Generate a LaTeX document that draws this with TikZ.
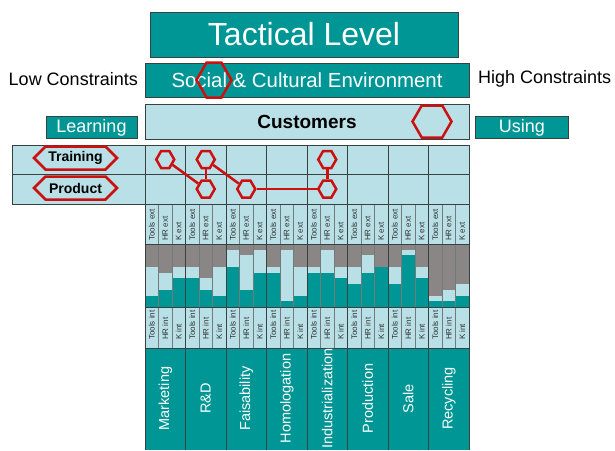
\documentclass[tikz,border=0pt]{standalone}
\usepackage{fontspec}
\setmainfont{Liberation Sans}
\usepackage{xcolor}
\usepackage{tikz}
\usetikzlibrary{shapes.symbols,positioning}

\definecolor{tealbox}{RGB}{0,150,150}
\definecolor{paleblue}{RGB}{185,224,230}
\definecolor{bargray}{RGB}{138,134,134}
\definecolor{hexred}{RGB}{204,16,16}
\definecolor{rulegray}{RGB}{55,65,65}

\tikzset{
  headbox/.style={draw=rulegray, fill=tealbox, text=white, inner sep=0pt},
  custbox/.style={draw=rulegray, fill=paleblue, text=black, inner sep=0pt},
  hexmark/.style={signal, signal to=east and west, signal pointer angle=120,
    draw=hexred, line width=2.5pt, inner sep=0pt, minimum width=18pt, minimum height=17pt},
  hexlabel/.style={signal, signal to=east and west, signal pointer angle=90,
    draw=hexred, line width=2.5pt, fill=paleblue, inner sep=0pt,
    minimum width=83pt, minimum height=23pt, font=\fontsize{14}{15}\selectfont\bfseries},
  sublabel/.style={anchor=west, rotate=90, inner sep=0pt, text=black!80,
    font=\fontsize{8}{9}\selectfont},
  phaselabel/.style={rotate=90, inner sep=0pt, text=white,
    font=\fontsize{14.5}{16}\selectfont},
  redlink/.style={draw=hexred, line width=2.5pt}
}

\begin{document}
\begin{tikzpicture}[x=1pt, y=-1pt]
    \useasboundingbox (0,0) rectangle (615,450);

    % Header boxes
    \node[headbox, minimum width=308pt, minimum height=45pt,
          font=\fontsize{32}{34}\selectfont] (tactical) at (304,34.5) {Tactical Level};
    \node[headbox, minimum width=324pt, minimum height=34pt,
          font=\fontsize{20.4}{22}\selectfont] (social) at (307,80) {Social \& Cultural Environment};
    \node[custbox, minimum width=324pt, minimum height=35pt,
          font=\fontsize{19}{21}\selectfont\bfseries] (customers) at (307,121.5) {Customers};
    \node[font=\fontsize{18}{20}\selectfont, anchor=east, inner sep=0pt] (lowc) at (138,79) {Low Constraints};
    \node[font=\fontsize{18}{20}\selectfont, anchor=west, inner sep=0pt] (highc) at (478,79) {High Constraints};
    \node[headbox, minimum width=91pt, minimum height=22pt,
          font=\fontsize{18}{20}\selectfont] (learning) at (91.5,127.5) {Learning};
    \node[headbox, minimum width=93pt, minimum height=22pt,
          font=\fontsize{18}{20}\selectfont] (using) at (522,127.5) {Using};

    % Table background
    \fill[paleblue] (12,145) rectangle (145,204);
    \fill[paleblue] (145,145) rectangle (469,348);
    \fill[tealbox] (145,348) rectangle (469,450);

    % Bars (gray level / teal level per sub-column)
    \foreach \g/\t [count=\k from 0] in {4/9,5/8,4/6,4/6,6/8,4/9,1/4,2/8,1/5,4/5,1/10,4/9,
                                         4/5,1/5,4/6,4/7,2/5,4/4,4/7,1/2,4/6,9/10,8/10,7/9}{
      \fill[bargray] (145+13.5*\k,244) rectangle (158.5+13.5*\k,244+5.727*\g);
      \fill[tealbox] (145+13.5*\k,244+5.727*\t) rectangle (158.5+13.5*\k,307);
    }

    % Grid
    \draw[rulegray] (12,145) rectangle (469,204);
    \draw[rulegray] (12,174.5) -- (469,174.5);
    \foreach \k in {0,...,23}
      \draw[rulegray!70, line width=0.5pt] (145+13.5*\k,204) -- (145+13.5*\k,348);
    \foreach \i in {0,...,8}
      \draw[rulegray] (145+40.5*\i,145) -- (145+40.5*\i,450);
    \foreach \y in {204,244,307,348}
      \draw[rulegray] (145,\y) -- (469,\y);

    % Sub-column labels
    \foreach \i in {0,...,7}
      \foreach \s [count=\j from 0] in {Tools,HR,K}{
        \node[sublabel] (ext\i-\j) at (151.75+40.5*\i+13.5*\j,241) {\s\ ext};
        \node[sublabel] (int\i-\j) at (151.75+40.5*\i+13.5*\j,340) {\s\ int};
      }

    % Phase labels
    \foreach \p [count=\i from 0] in {Marketing,R\&D,Faisability,Homologation,
                                      Industrialization,Production,Sale,Recycling}
      \node[phaselabel] (phase\i) at (165.25+40.5*\i,398.5) {\p};

    % Row labels
    \node[hexlabel] (training) at (75.5,158) {Training};
    \node[hexlabel] (product) at (75.5,188) {Product};

    % Hexagon marks
    \node[hexmark, minimum width=35pt, minimum height=35pt] (hxsocial) at (214,80) {};
    \node[hexmark, minimum width=39pt, minimum height=32pt] (hxcust) at (432,121.5) {};
    \node[hexmark] (hxMT) at (165.25,159.5) {};
    \node[hexmark] (hxRT) at (205.75,159.5) {};
    \node[hexmark] (hxIT) at (327.25,159.5) {};
    \node[hexmark] (hxRP) at (205.75,189) {};
    \node[hexmark] (hxFP) at (246.25,189) {};
    \node[hexmark] (hxIP) at (327.25,189) {};

    % Links
    \draw[redlink] (hxMT) -- (hxRP);
    \draw[redlink] (hxRT) -- (hxRP);
    \draw[redlink] (hxRT) -- (hxFP);
    \draw[redlink] (hxFP) -- (hxIP);
    \draw[redlink] (hxIT) -- (hxIP);
\end{tikzpicture}
\end{document}
